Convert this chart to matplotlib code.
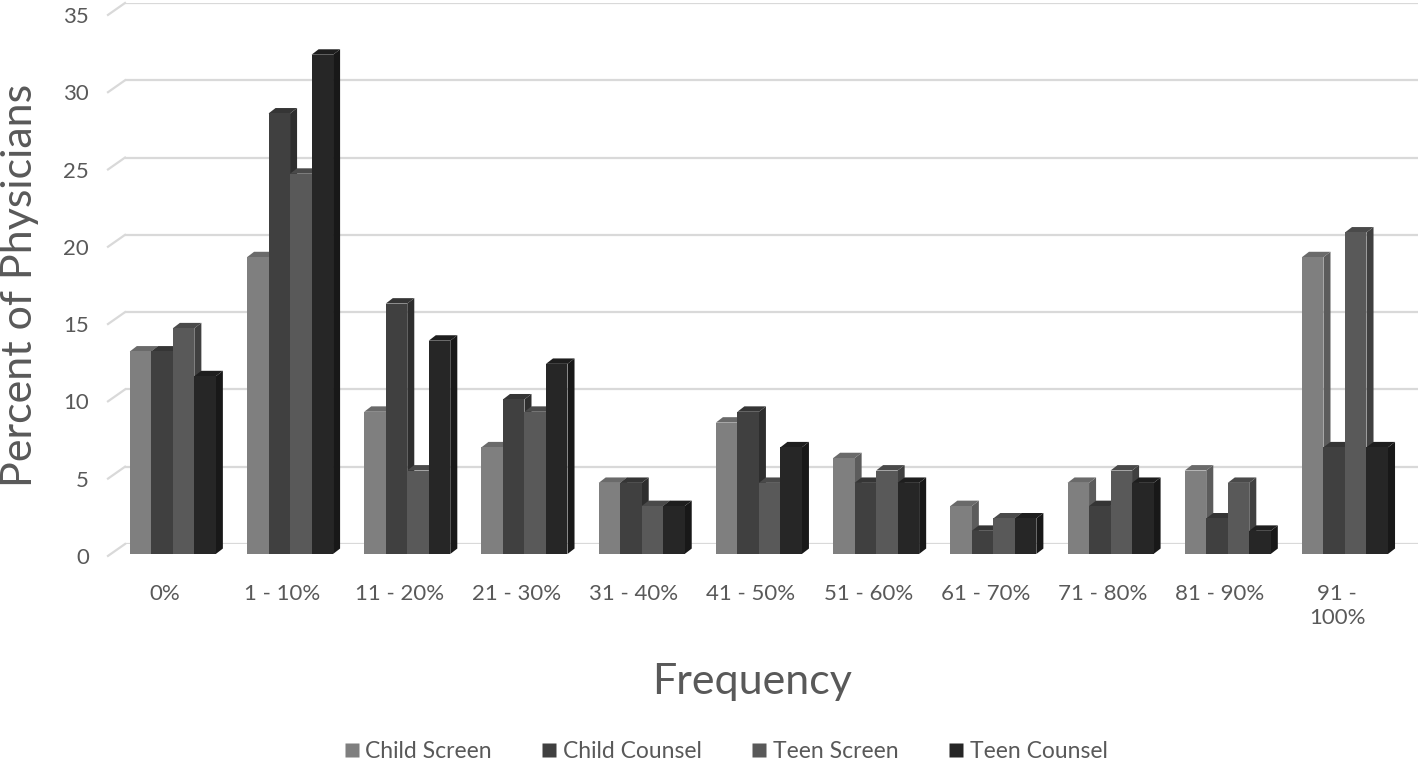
import numpy as np
import matplotlib
matplotlib.use("Agg")
import matplotlib.pyplot as plt
from matplotlib.patches import Polygon
from matplotlib.lines import Line2D
import matplotlib.transforms as mtransforms

plt.rcParams['font.family'] = ['Lato', 'DejaVu Sans']

# data
categories = ['0%', '1 - 10%', '11 - 20%', '21 - 30%', '31 - 40%', '41 - 50%',
              '51 - 60%', '61 - 70%', '71 - 80%', '81 - 90%', '91 -\n100%']
series = ['Child Screen', 'Child Counsel', 'Teen Screen', 'Teen Counsel']
child_screen = [13.1, 19.2, 9.2, 6.9, 4.6, 8.5, 6.2, 3.1, 4.6, 5.4, 19.2]
child_counsel = [13.1, 28.5, 16.2, 10.0, 4.6, 9.2, 4.6, 1.5, 3.1, 2.3, 6.9]
teen_screen = [14.6, 24.6, 5.4, 9.2, 3.1, 4.6, 5.4, 2.3, 5.4, 4.6, 20.8]
teen_counsel = [11.5, 32.3, 13.8, 12.3, 3.1, 6.9, 4.6, 2.3, 4.6, 1.5, 6.9]

# front, top, side colours per series
front_cols = ['#7f7f7f', '#404040', '#595959', '#262626']
top_cols = ['#6a6a6a', '#353535', '#4a4a4a', '#1e1e1e']
side_cols = ['#5c5c5c', '#2e2e2e', '#404040', '#181818']

values = [child_screen, child_counsel, teen_screen, teen_counsel]
x = np.arange(len(categories))

fig = plt.figure(figsize=(14.18, 7.65), dpi=100)
ax = fig.add_axes([125 / 1418, 1 - 544 / 765, 1293 / 1418, 541 / 765])
ax.set_xlim(-0.341, 10.69)
ax.set_ylim(0, 35)

w = 0.1835      # bar width
dx = 0.06       # depth (x)
dy = 0.35       # depth (y)
base = -0.645   # front face bottom below the back wall floor
start = -0.30

for j, vals in enumerate(values):
    left = x + start + j * w
    bars = ax.bar(left, vals, width=w, bottom=base, align='edge',
                  color=front_cols[j], edgecolor='none', zorder=3 + 3 * j,
                  clip_on=False, label=series[j])
    for rect, v in zip(bars, vals):
        x0 = rect.get_x()
        x1 = x0 + rect.get_width()
        top = base + v
        side = Polygon([(x1, base), (x1 + dx, base + dy), (x1 + dx, top + dy), (x1, top)],
                       closed=True, facecolor=side_cols[j], edgecolor='none',
                       zorder=1 + 3 * j, clip_on=False)
        topf = Polygon([(x0, top), (x0 + dx, top + dy), (x1 + dx, top + dy), (x1, top)],
                       closed=True, facecolor=top_cols[j], edgecolor='none',
                       zorder=2 + 3 * j, clip_on=False)
        ax.add_patch(side)
        ax.add_patch(topf)

# gridlines on the back wall plus the little diagonal on the side wall
yt = np.arange(0, 36, 5)
for y in yt:
    ax.axhline(y, color='#d9d9d9', lw=1.6, zorder=0)
    ax.plot([-0.341, -0.341 - 0.145], [y, y - 0.77], color='#d9d9d9', lw=1.6,
            clip_on=False, zorder=0)

for s in ax.spines.values():
    s.set_visible(False)

ax.set_yticks(yt)
ax.set_yticklabels([str(v) for v in yt], fontsize=16, color='#595959')
ax.tick_params(axis='y', length=0, pad=26)
off = mtransforms.ScaledTranslation(0, -12 / 100, fig.dpi_scale_trans)
for lab in ax.get_yticklabels():
    lab.set_transform(lab.get_transform() + off)

ax.set_xticks(x)
ax.set_xticklabels(categories, fontsize=16, color='#595959', va='top',
                   linespacing=1.25)
ax.tick_params(axis='x', length=0, pad=29)

fig.text(20 / 1418, 1 - 285 / 765, 'Percent of Physicians', rotation=90,
         ha='center', va='center', fontsize=31, color='#595959')
fig.text(752 / 1418, 1 - 682 / 765, 'Frequency', ha='center', va='center',
         fontsize=31, color='#595959')

handles = [Line2D([0], [0], marker='s', linestyle='none', markersize=10,
                  markerfacecolor=front_cols[j], markeredgecolor='none')
           for j in range(4)]
leg = fig.legend(handles, series, loc='center', ncol=4,
                 bbox_to_anchor=(726 / 1418, 1 - 752 / 765), frameon=False,
                 fontsize=16.5, handlelength=0.6, handletextpad=0.3,
                 columnspacing=2.2)
for t in leg.get_texts():
    t.set_color('#595959')

plt.savefig('out.png', dpi=100)
